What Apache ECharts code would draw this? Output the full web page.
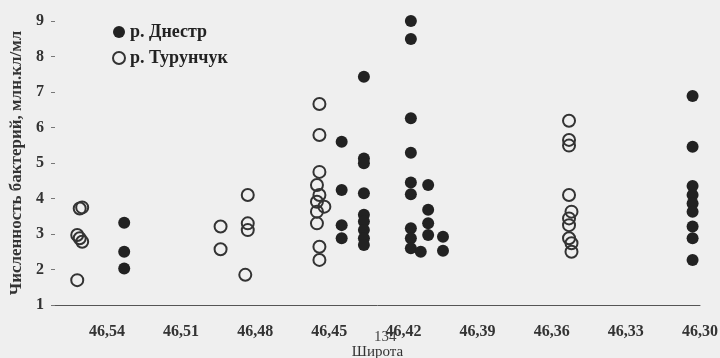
<!DOCTYPE html>
<html>
<head>
<meta charset="utf-8">
<script src="https://cdn.jsdelivr.net/npm/echarts@6/dist/echarts.min.js"></script>
<style>
html, body { margin:0; padding:0; background:#efefef; }
#main { width:720px; height:358px; }
</style>
</head>
<body>
<div id="main"></div>
<script type="text/javascript">
    // подписи оси X (широта)
    var xTicks = [46.54, 46.51, 46.48, 46.45, 46.42, 46.39, 46.36, 46.33, 46.30];

    // р. Днестр
    var dnLat = [46.533, 46.533, 46.533,
                 46.445, 46.445, 46.445, 46.445,
                 46.436, 46.436, 46.436, 46.436, 46.436, 46.436, 46.436, 46.436, 46.436,
                 46.417, 46.417, 46.417, 46.417, 46.417, 46.417, 46.417, 46.417, 46.417,
                 46.413,
                 46.410, 46.410, 46.410, 46.410,
                 46.404, 46.404,
                 46.303, 46.303, 46.303, 46.303, 46.303, 46.303, 46.303, 46.303, 46.303];
    var dnVal = [3.32, 2.50, 2.03,
                 5.60, 4.24, 3.25, 2.88,
                 7.43, 5.13, 4.99, 4.15, 3.54, 3.35, 3.11, 2.88, 2.69,
                 9.00, 8.49, 6.26, 5.29, 4.45, 4.12, 3.16, 2.88, 2.60,
                 2.50,
                 4.38, 3.68, 3.30, 2.97,
                 2.92, 2.53,
                 6.89, 5.46, 4.35, 4.10, 3.86, 3.63, 3.21, 2.88, 2.27];

    // р. Турунчук
    var tuLat = [46.551, 46.550, 46.552, 46.551, 46.550, 46.552,
                 46.494, 46.494,
                 46.483, 46.483, 46.483, 46.484,
                 46.454, 46.454, 46.454, 46.455, 46.454, 46.455, 46.452, 46.455, 46.455, 46.454, 46.454,
                 46.353, 46.353, 46.353, 46.353, 46.352, 46.353, 46.353, 46.353, 46.352, 46.352];
    var tuVal = [3.72, 3.75, 2.97, 2.88, 2.78, 1.70,
                 3.21, 2.57,
                 4.10, 3.30, 3.11, 1.85,
                 6.66, 5.79, 4.75, 4.38, 4.10, 3.91, 3.77, 3.63, 3.30, 2.64, 2.27,
                 6.19, 5.65, 5.49, 4.10, 3.63, 3.44, 3.25, 2.88, 2.74, 2.50];

    function pairs(xs, ys) {
        var out = [];
        for (var i = 0; i < xs.length; i++) out.push([xs[i], ys[i]]);
        return out;
    }

    var serif = '"Liberation Serif", "DejaVu Serif", serif';
    var myChart = echarts.init(document.getElementById('main'));
    var option = {
        backgroundColor: '#efefef',
        animation: false,
        grid: { left: 55, right: 20, top: 21, bottom: 53, outerBoundsMode: 'none' },
        legend: {
            orient: 'vertical',
            left: 107,
            top: 18,
            itemGap: 8,
            itemWidth: 12,
            itemHeight: 12,
            icon: 'circle',
            textStyle: { fontFamily: serif, fontWeight: 'bold', fontSize: 18, color: '#222' },
            data: ['р. Днестр', 'р. Турунчук']
        },
        xAxis: {
            type: 'value',
            inverse: true,
            min: 46.30,
            max: 46.561,
            name: 'Широта',
            nameLocation: 'middle',
            nameGap: 38,
            nameTextStyle: { fontFamily: serif, fontSize: 15, color: '#333' },
            splitLine: { show: false },
            axisLine: { lineStyle: { color: '#555', width: 1 } },
            axisTick: { show: false },
            axisLabel: {
                customValues: xTicks,
                margin: 19,
                fontFamily: serif,
                fontWeight: 'bold',
                fontSize: 16,
                color: '#333',
                formatter: function (v) { return v.toFixed(2).replace('.', ','); }
            }
        },
        yAxis: {
            type: 'value',
            min: 1,
            max: 9,
            interval: 1,
            name: 'Численность бактерий, млн.кл/мл',
            nameLocation: 'middle',
            nameGap: 30,
            nameTextStyle: { fontFamily: serif, fontWeight: 'bold', fontSize: 17, color: '#333' },
            splitLine: { show: false },
            axisLine: { show: false },
            axisTick: { show: true, length: 4, lineStyle: { color: '#777' } },
            axisLabel: { margin: 11, fontFamily: serif, fontWeight: 'bold', fontSize: 16, color: '#333' }
        },
        graphic: [
            {
                type: 'text',
                left: 374,
                top: 330,
                style: { text: '134', font: '15px "Liberation Serif", serif', fill: '#444' }
            }
        ],
        series: [
            {
                name: 'р. Днестр',
                type: 'scatter',
                symbolSize: 12,
                itemStyle: { color: '#222', opacity: 1 },
                data: pairs(dnLat, dnVal)
            },
            {
                name: 'р. Турунчук',
                type: 'scatter',
                symbolSize: 12,
                itemStyle: { color: 'rgba(239,239,239,0)', borderColor: '#333', borderWidth: 2, opacity: 1 },
                data: pairs(tuLat, tuVal)
            }
        ]
    };
    myChart.setOption(option);
</script>
</body>
</html>
